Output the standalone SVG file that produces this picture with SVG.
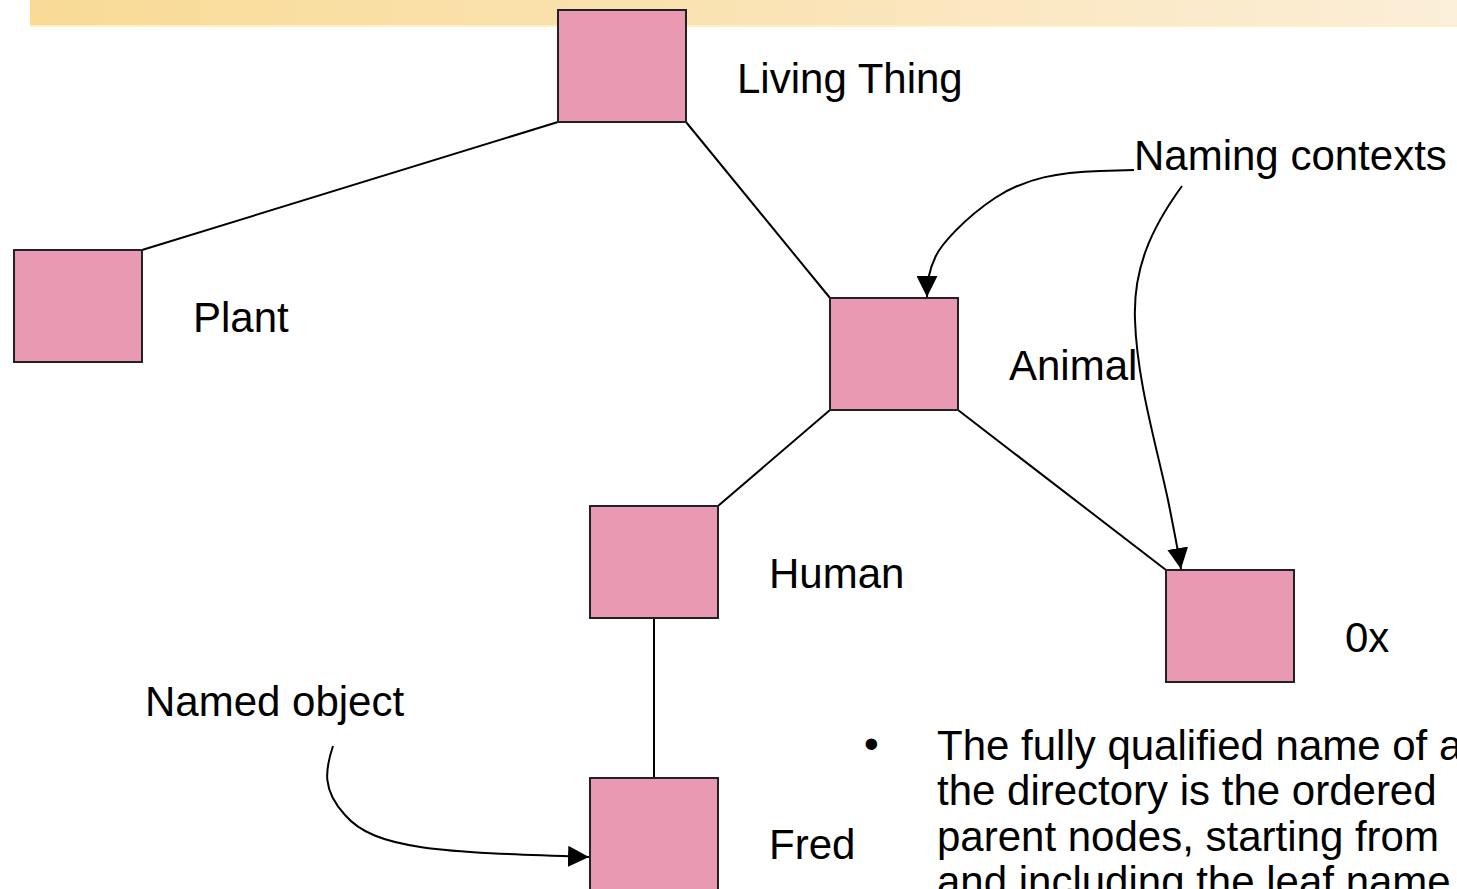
<svg xmlns="http://www.w3.org/2000/svg" width="1457" height="889" viewBox="0 0 1457 889">
<defs>
<linearGradient id="bar" x1="0" y1="0" x2="1" y2="0">
<stop offset="0" stop-color="#F9DB96"/>
<stop offset="0.5" stop-color="#FAE3B4"/>
<stop offset="1" stop-color="#FCEFD9"/>
</linearGradient>
<marker id="ah" viewBox="0 0 10 10" refX="10" refY="5" markerWidth="21" markerHeight="21" markerUnits="userSpaceOnUse" orient="auto">
<path d="M0,0 L10,5 L0,10 z" fill="#000"/>
</marker>
</defs>
<style>
.box{fill:#E99AB2;stroke:#222;stroke-width:2}
.t{font-family:"Liberation Sans",Arial,sans-serif;font-size:42px;fill:#000}
.ln{stroke:#000;stroke-width:2;fill:none}
.ar{stroke:#000;stroke-width:2;fill:none;marker-end:url(#ah)}
</style>
<rect x="30" y="0" width="1427" height="26" fill="url(#bar)"/>
<rect x="30" y="25" width="1427" height="2" fill="#FBF1C4"/>
<g id="connectors">
<line class="ln" x1="558" y1="122" x2="142" y2="250"/>
<line class="ln" x1="686" y1="122" x2="830" y2="298"/>
<line class="ln" x1="830" y1="410" x2="718" y2="506"/>
<line class="ln" x1="958" y1="410" x2="1166" y2="570"/>
<line class="ln" x1="654" y1="618" x2="654" y2="778"/>
<path class="ar" d="M1134,170 L1100,171 C1060,172 1025,178 995,198 C965,218 940,245 935,258 C929,270 927,285 927,297"/>
<path class="ar" d="M1182,186 C1150,230 1133,270 1135,320 C1137,380 1155,440 1168,500 C1174,530 1178,550 1181,569"/>
<path class="ar" d="M333,746 C325,770 322,790 345,815 C375,850 440,852 589,857"/>
</g>
<g id="living-thing"><rect class="box" x="558" y="10" width="128" height="112"/><text class="t" x="737" y="93">Living Thing</text></g>
<g id="plant"><rect class="box" x="14" y="250" width="128" height="112"/><text class="t" x="193" y="332">Plant</text></g>
<g id="animal"><rect class="box" x="830" y="298" width="128" height="112"/><text class="t" x="1009" y="380">Animal</text></g>
<g id="human"><rect class="box" x="590" y="506" width="128" height="112"/><text class="t" x="769" y="588">Human</text></g>
<g id="ox"><rect class="box" x="1166" y="570" width="128" height="112"/><text class="t" x="1345" y="652">0x</text></g>
<g id="fred"><rect class="box" x="590" y="778" width="128" height="120"/><text class="t" x="769" y="859">Fred</text></g>
<g id="labels">
<text class="t" x="1134" y="170">Naming contexts</text>
<text class="t" x="145" y="716">Named object</text>
</g>
<g id="bullet">
<text class="t" x="864" y="758" font-size="30">•</text>
<text class="t" x="937" y="760">The fully qualified name of a</text>
<text class="t" x="937" y="805">the directory is the ordered</text>
<text class="t" x="937" y="851">parent nodes, starting from</text>
<text class="t" x="937" y="896">and including the leaf name</text>
</g>
</svg>
